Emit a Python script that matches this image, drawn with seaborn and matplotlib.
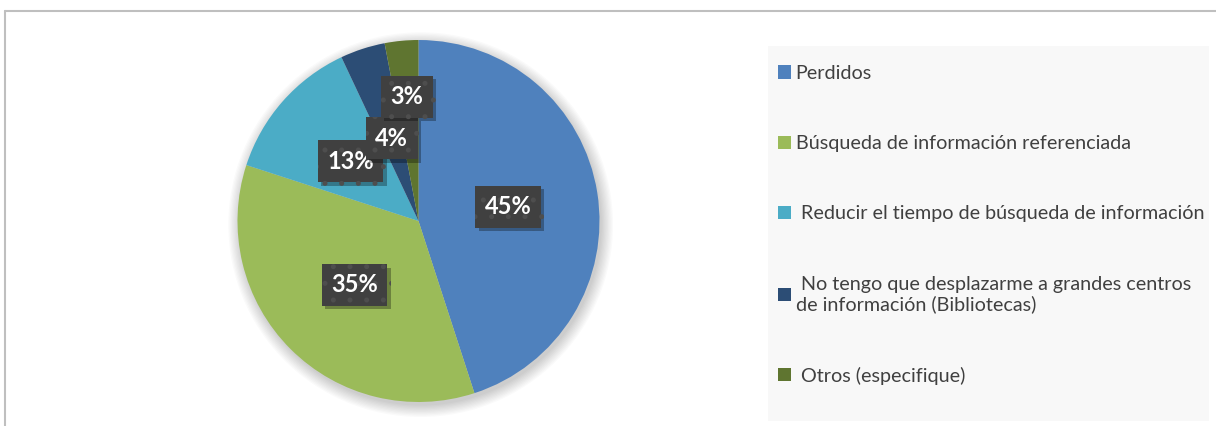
import numpy as np
import matplotlib
matplotlib.use('Agg')
import matplotlib.pyplot as plt
import matplotlib.patheffects as pe
from matplotlib.patches import Rectangle, Circle
from matplotlib.lines import Line2D
import seaborn as sns

# Data
categorias = [
    'Perdidos',
    'Búsqueda de información referenciada',
    ' Reducir el tiempo de búsqueda de información',
    ' No tengo que desplazarme a grandes centros\nde información (Bibliotecas)',
    ' Otros (especifique)',
]
porcentajes = [45, 35, 13, 4, 3]
etiquetas = ['45%', '35%', '13%', '4%', '3%']
colores = ['#4F81BD', '#9BBB59', '#4BACC6', '#2C4D75', '#5F7530']

sns.set_theme(style='white')
plt.rcParams['font.family'] = ['Lato', 'DejaVu Sans']
plt.rcParams['hatch.linewidth'] = 1.2

W, H = 1216, 426
fig = plt.figure(figsize=(W / 100, H / 100), dpi=100)
fig.patch.set_facecolor('white')

# marco del grafico (solo arriba y a la izquierda visibles)
fig.add_artist(Line2D([4.5 / W, 1], [1 - 10.5 / H, 1 - 10.5 / H], color='#BFBFBF', lw=1.5))
fig.add_artist(Line2D([4.5 / W, 4.5 / W], [0, 1 - 10.5 / H], color='#BFBFBF', lw=1.5))

# fondo de la leyenda
fig.add_artist(Rectangle((768 / W, 1 - 421 / H), (1209 - 768) / W, (421 - 46) / H,
                         transform=fig.transFigure, facecolor='#F8F8F8', edgecolor='none', zorder=0))

# pie
cx, cy, r = 418.5, H - 221, 181
ax = fig.add_axes([(cx - r) / W, (cy - r) / H, 2 * r / W, 2 * r / H])
palette = sns.color_palette(colores)

# sombra suave
for i in range(10):
    ax.add_patch(Circle((0.012, -0.02), 1 + 0.007 * i, facecolor='black', alpha=0.018,
                        edgecolor='none', zorder=0, clip_on=False))

wedges, _ = ax.pie(porcentajes, colors=palette, startangle=90, counterclock=False,
                   wedgeprops=dict(linewidth=0, zorder=1))
ax.set_xlim(-1, 1)
ax.set_ylim(-1, 1)
ax.set_aspect('equal')
ax.axis('off')

distancias = [0.5, 0.5, 0.5, 0.48, 0.69]
for w, txt, d in zip(wedges, etiquetas, distancias):
    ang = np.deg2rad((w.theta1 + w.theta2) / 2)
    t = ax.text(d * np.cos(ang), d * np.sin(ang), txt, ha='center', va='center',
                color='white', fontsize=17, fontweight='bold', zorder=5,
                bbox=dict(boxstyle='square,pad=0.4', facecolor='#404040',
                          edgecolor='#4E4E4E', linewidth=0, hatch='.'))
    t.get_bbox_patch().set_path_effects([
        pe.SimplePatchShadow(offset=(2.5, -2.5), shadow_rgbFace='black', alpha=0.3),
        pe.Normal()])

# leyenda
handles = [Rectangle((0, 0), 1, 1, facecolor=c, edgecolor='none') for c in colores]
leg = fig.legend(handles, categorias, loc='upper left',
                 bbox_to_anchor=(770 / W, 1 - 57 / H), frameon=False,
                 fontsize=14.2, labelcolor='#404040', handlelength=0.65, handleheight=0.65,
                 handletextpad=0.25, labelspacing=2.7, borderaxespad=0)

fig.savefig('out.png', dpi=100, facecolor=fig.get_facecolor())
plt.close(fig)
